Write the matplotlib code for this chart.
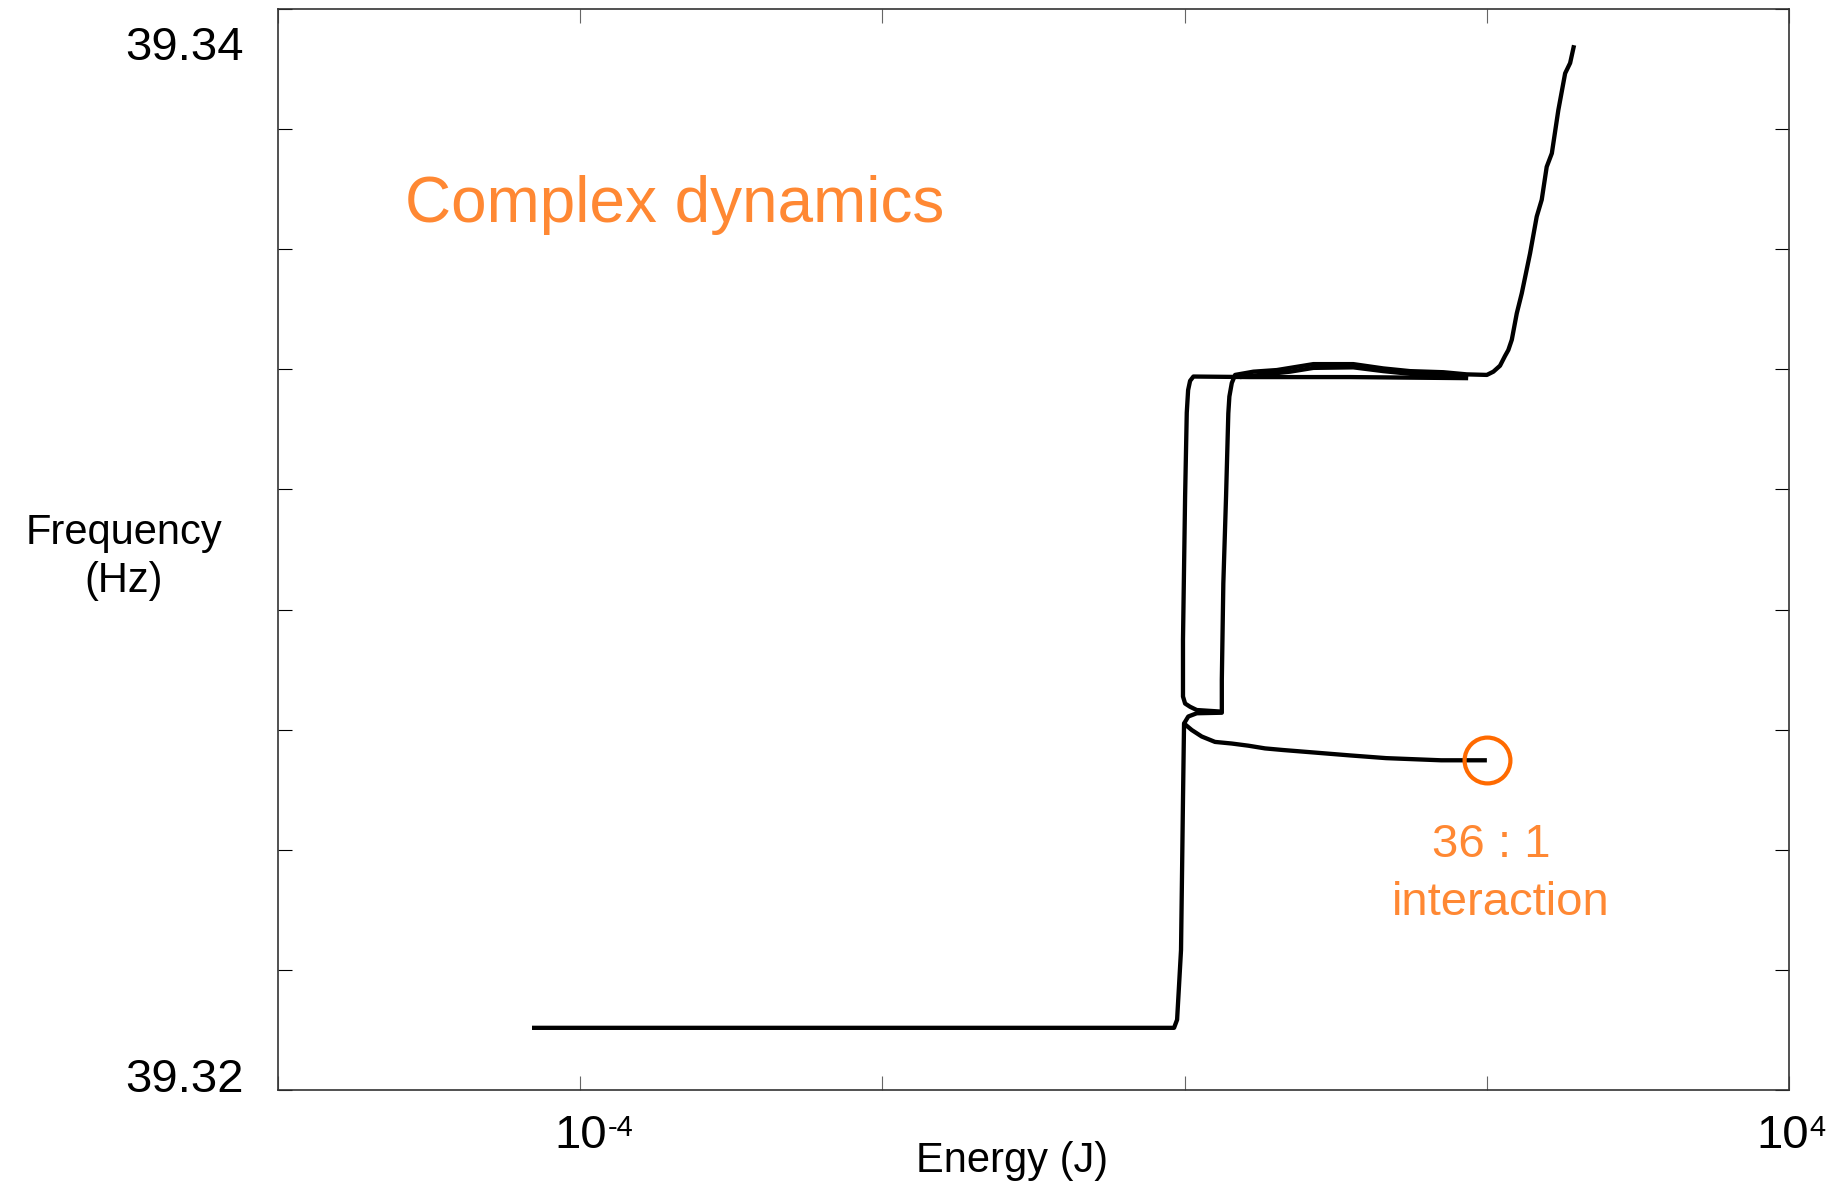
import numpy as np
import matplotlib
matplotlib.use("Agg")
import matplotlib.pyplot as plt
from matplotlib.transforms import blended_transform_factory, offset_copy

plt.rcParams['font.family'] = ['Liberation Sans', 'DejaVu Sans']

# --- Backbone branches: log10(energy in J) and frequency in Hz ---
# low-energy branch, jump near 1 J, then the branch ending on the 36:1 point
main_log_energy = [-4.319, -0.070, -0.050, -0.037, -0.024, -0.017, -0.011, -0.004,
                   0.047, 0.113, 0.201, 0.312, 0.422, 0.532, 0.651, 0.874,
                   1.095, 1.333, 1.697, 2.000]
main_freq = [39.32115, 39.32115, 39.32130, 39.32194, 39.32259, 39.32407, 39.32537, 39.32678,
             39.32666, 39.32654, 39.32644, 39.32641, 39.32637, 39.32632, 39.32629, 39.32624,
             39.32619, 39.32614, 39.32610, 39.32610]

# connector, right side of the loop, upper band and the high-energy rise
rise_log_energy = [-0.004, 0.024, 0.080, 0.246, 0.246, 0.256, 0.274, 0.289, 0.296, 0.312,
                   0.334, 0.455, 0.610, 0.698, 0.852, 1.116, 1.315, 1.492, 1.712, 1.867,
                   2.000, 2.043, 2.087, 2.120, 2.142, 2.165, 2.198, 2.231, 2.286, 2.330,
                   2.363, 2.396, 2.430, 2.473, 2.518, 2.551, 2.577]
rise_freq = [39.32678, 39.32691, 39.32697, 39.32698, 39.32759, 39.32937, 39.33098, 39.33252,
             39.33283, 39.33308, 39.33323, 39.33329, 39.33332, 39.33336, 39.33343, 39.33343,
             39.33335, 39.33330, 39.33328, 39.33324, 39.33323, 39.33329, 39.33340, 39.33358,
             39.33369, 39.33388, 39.33437, 39.33474, 39.33548, 39.33616, 39.33647, 39.33708,
             39.33733, 39.33813, 39.33881, 39.33900, 39.33933]

# bottom and left side of the loop, flat upper band
loop_log_energy = [0.246, 0.080, 0.036, 0.003, -0.011, -0.011, 0.003, 0.014, 0.023, 0.036,
                   0.058, 0.433, 1.095, 1.876]
loop_freq = [39.32700, 39.32703, 39.32709, 39.32715, 39.32728, 39.32833, 39.33098, 39.33253,
             39.33295, 39.33312, 39.33320, 39.33319, 39.33319, 39.33317]

# inner line of the upper band
band_log_energy = [0.366, 0.698, 0.852, 1.116, 1.315, 1.492, 1.710, 1.876]
band_freq = [39.33319, 39.33329, 39.33336, 39.33337, 39.33330, 39.33325, 39.33322, 39.33319]

# 36:1 interaction point
point_log_energy = 2.000
point_freq = 39.32610

x_ticks = [1e-6, 1e-4, 1e-2, 1e0, 1e2, 1e4]
# (tick value, exponent text, horizontal shift of the label in points)
x_tick_labels = [(1e-4, '-4', 19.4), (1e4, '4', 14.0)]
y_limits = (39.32, 39.34)
y_labels = ['39.34', '39.32']

LINE_KW = dict(color='black', lw=3.1, solid_joinstyle='round', solid_capstyle='butt')
ORANGE_TEXT = '#FF8833'
ORANGE_MARK = '#FF6A00'

fig = plt.figure(figsize=(18.41, 11.84), dpi=100)
ax = fig.add_axes([0.1510, 0.0794, 0.8208, 0.9130])

for le, fr in [(main_log_energy, main_freq), (rise_log_energy, rise_freq),
               (loop_log_energy, loop_freq), (band_log_energy, band_freq)]:
    ax.plot(10.0 ** np.array(le), fr, **LINE_KW)

ax.plot([10.0 ** point_log_energy], [point_freq], 'o', ms=33, mfc='none',
        mec=ORANGE_MARK, mew=3.0)

ax.set_xscale('log')
ax.set_xlim(1e-6, 1e4)
ax.set_ylim(*y_limits)
ax.set_xticks(x_ticks)
ax.set_xticklabels([])
ax.xaxis.set_minor_locator(matplotlib.ticker.NullLocator())
ax.set_yticks(np.linspace(y_limits[0], y_limits[1], 10))
ax.set_yticklabels([])

ax.tick_params(axis='x', direction='in', length=10, width=0.8, colors='#666666', top=True)
ax.tick_params(axis='y', direction='in', length=10, width=0.8, colors='black', right=True)
for sp in ax.spines.values():
    sp.set_color('#333333')
    sp.set_linewidth(1.2)

# power-of-ten labels under the energy axis, with a plain hyphen in the exponent
xtrans = blended_transform_factory(ax.transData, ax.transAxes)
for val, expo, dx in x_tick_labels:
    ax.text(val, 0, '10', transform=offset_copy(xtrans, fig=fig, x=dx, y=-17.3, units='points'),
            ha='right', va='top', fontsize=34, clip_on=False)
    ax.text(val, 0, expo, transform=offset_copy(xtrans, fig=fig, x=dx + 0.6, y=-17.6, units='points'),
            ha='left', va='top', fontsize=21, clip_on=False)

# frequency end labels
fig.text(0.1325, 0.9493, y_labels[0], ha='right', va='baseline', fontsize=34)
fig.text(0.1325, 0.0777, y_labels[1], ha='right', va='baseline', fontsize=34)

fig.text(0.0674, 0.5296, 'Frequency\n(Hz)', ha='center', va='center',
         fontsize=30, linespacing=1.25)
fig.text(0.5497, 0.0101, 'Energy (J)', ha='center', va='baseline', fontsize=30)

ax.text(0.0841, 0.8030, 'Complex dynamics', transform=ax.transAxes,
        ha='left', va='baseline', fontsize=46, color=ORANGE_TEXT)
ax.text(0.8028, 0.2158, '36 : 1', transform=ax.transAxes,
        ha='center', va='baseline', fontsize=34, color=ORANGE_TEXT)
ax.text(0.8092, 0.1619, 'interaction', transform=ax.transAxes,
        ha='center', va='baseline', fontsize=34, color=ORANGE_TEXT)

fig.savefig('out.png', dpi=100)
